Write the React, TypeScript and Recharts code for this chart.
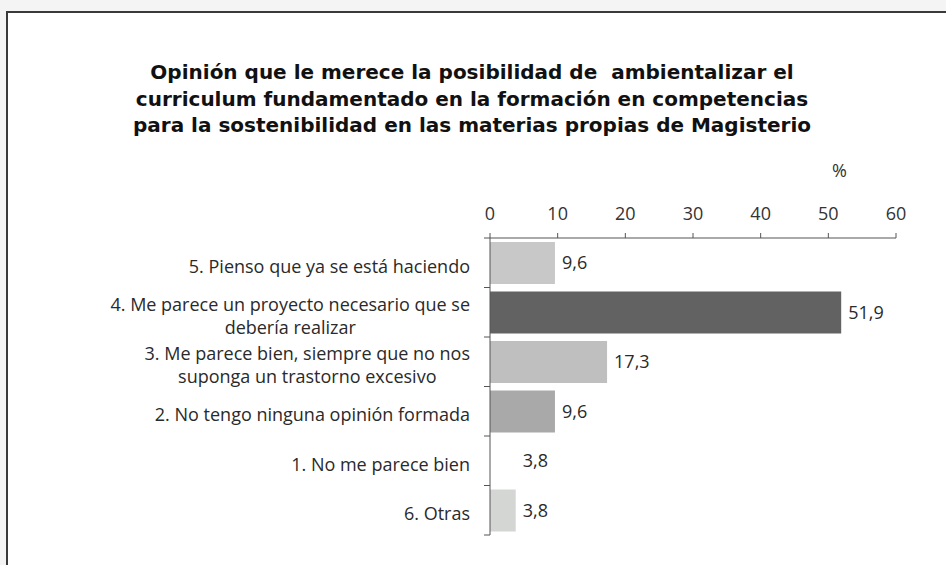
import React from 'react';
import { BarChart, Bar, XAxis, YAxis, Cell, LabelList } from 'recharts';

const categories = [
  '5. Pienso que ya se está haciendo',
  '4. Me parece un proyecto necesario que se\ndebería realizar',
  '3. Me parece bien, siempre que no nos\nsuponga un trastorno excesivo',
  '2. No tengo ninguna opinión formada',
  '1. No me parece bien',
  '6. Otras',
];
const values = [9.6, 51.9, 17.3, 9.6, 3.8, 3.8];
const barColors = ['#c7c8c7', '#626262', '#bebfbe', '#a9a9a9', '#ffffff', '#d4d6d4'];
const xTicks = [0, 10, 20, 30, 40, 50, 60];

const titleLines = [
  'Opinión que le merece la posibilidad de  ambientalizar el',
  'curriculum fundamentado en la formación en competencias',
  'para la sostenibilidad en las materias propias de Magisterio',
];

const data = categories.map((label, i) => ({ label, value: values[i] }));

const LABEL_FONT = '"Open Sans", sans-serif';
const LABEL_SIZE = 18;
const AXIS_COLOR = '#555';

let ctx: CanvasRenderingContext2D | null = null;
function textWidth(s: string) {
  if (!ctx) ctx = document.createElement('canvas').getContext('2d');
  if (!ctx) return s.length * 9;
  ctx.font = `${LABEL_SIZE}px "Open Sans"`;
  return ctx.measureText(s).width;
}

// category label + small tick marks on the band edges
function CategoryTick(props: any) {
  const { x, y, payload, index, visibleTicksCount } = props;
  const lines: string[] = String(payload.value).split('\n');
  const blockW = Math.max(...lines.map(textWidth));
  const half = payload.offset || 0;
  const axisX = x + 20;
  const lh = 23;
  return (
    <g>
      <line x1={axisX - 6} x2={axisX} y1={y - half} y2={y - half} stroke={AXIS_COLOR} />
      {index === visibleTicksCount - 1 && (
        <line x1={axisX - 6} x2={axisX} y1={y + half} y2={y + half} stroke={AXIS_COLOR} />
      )}
      {lines.map((ln, i) => (
        <text
          key={i}
          x={lines.length > 1 ? x - blockW / 2 : x}
          y={y + 10 + (i - (lines.length - 1) / 2) * lh}
          textAnchor={lines.length > 1 ? 'middle' : 'end'}
          fontFamily={LABEL_FONT}
          fontSize={LABEL_SIZE}
          fill="#2a2a2a"
        >
          {ln}
        </text>
      ))}
    </g>
  );
}

export default function App() {
  return (
    <div style={{ position: 'fixed', left: 0, top: 0, width: 946, height: 565, background: '#f4f4f4', overflow: 'hidden' }}>
      <div
        style={{
          position: 'absolute',
          left: 6,
          top: 11,
          width: 960,
          height: 570,
          background: '#fff',
          borderTop: '2px solid #3a3a3a',
          borderLeft: '2px solid #3a3a3a',
        }}
      />
      <div
        style={{
          position: 'absolute',
          left: 0,
          top: 59,
          width: 944,
          textAlign: 'center',
          fontFamily: '"DejaVu Sans", sans-serif',
          fontWeight: 'bold',
          fontSize: 20,
          lineHeight: '26.5px',
          color: '#111',
          whiteSpace: 'pre',
        }}
      >
        {titleLines.join('\n')}
      </div>
      <div
        style={{
          position: 'absolute',
          left: 832,
          top: 158,
          fontFamily: LABEL_FONT,
          fontSize: 18,
          color: '#333',
        }}
      >
        %
      </div>
      <div style={{ position: 'absolute', left: 0, top: 0 }}>
        <BarChart
          width={946}
          height={565}
          data={data}
          layout="vertical"
          margin={{ top: 208, right: 50, bottom: 30, left: 20 }}
          barSize={42}
        >
          <XAxis
            type="number"
            orientation="top"
            domain={[0, 60]}
            ticks={xTicks}
            height={30}
            tickSize={5}
            tickMargin={13}
            stroke={AXIS_COLOR}
            tick={{ fill: '#333', fontSize: 18, fontFamily: LABEL_FONT }}
          />
          <YAxis
            type="category"
            dataKey="label"
            width={470}
            stroke={AXIS_COLOR}
            tickLine={false}
            tickSize={0}
            tickMargin={20}
            interval={0}
            tick={<CategoryTick />}
          />
          <Bar dataKey="value" isAnimationActive={false}>
            {data.map((d, i) => (
              <Cell key={i} fill={barColors[i]} />
            ))}
            <LabelList
              dataKey="value"
              position="right"
              offset={7}
              formatter={(v: any) => Number(v).toFixed(1).replace('.', ',')}
              style={{ fill: '#2a2a2a', fontSize: 18, fontFamily: LABEL_FONT }}
            />
          </Bar>
        </BarChart>
      </div>
    </div>
  );
}
